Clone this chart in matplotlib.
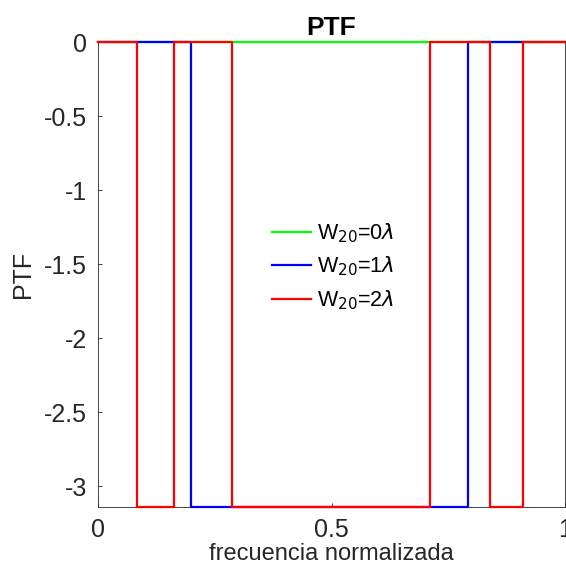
import numpy as np
import matplotlib.pyplot as plt

plt.rcParams['font.family'] = ['Liberation Sans', 'DejaVu Sans']

# PTF values (steps, value holds until next breakpoint)
freq_w0 = [0.0, 1.0]
ptf_w0 = [0.0, 0.0]

freq_w1 = [0.0, 0.200, 0.792, 1.0]
ptf_w1 = [0.0, -np.pi, 0.0, 0.0]

freq_w2 = [0.0, 0.083, 0.163, 0.288, 0.711, 0.839, 0.909, 1.0]
ptf_w2 = [0.0, -np.pi, 0.0, -np.pi, 0.0, -np.pi, 0.0, 0.0]

labels = [r'W$_{20}$=0$\lambda$', r'W$_{20}$=1$\lambda$', r'W$_{20}$=2$\lambda$']
xticks = [0, 0.5, 1]
yticks = [0, -0.5, -1, -1.5, -2, -2.5, -3]

fig = plt.figure(figsize=(5.66, 5.65), dpi=100)
ax = fig.add_axes([98 / 566, 58 / 565, 467 / 566, 465 / 565])

ax.plot(freq_w0, ptf_w0, color=(0, 1, 0), lw=1.6, drawstyle='steps-post', label=labels[0], clip_on=False, zorder=3)
ax.plot(freq_w1, ptf_w1, color=(0, 0, 1), lw=1.6, drawstyle='steps-post', label=labels[1], clip_on=False, zorder=3)
ax.plot(freq_w2, ptf_w2, color=(1, 0, 0), lw=1.6, drawstyle='steps-post', label=labels[2], clip_on=False, zorder=3)

ax.set_xlim(0, 1)
ax.set_ylim(-np.pi, 0)
ax.set_xticks(xticks)
ax.set_xticklabels(['0', '0.5', '1'])
ax.set_yticks(yticks)
ax.set_yticklabels(['0', '-0.5', '-1', '-1.5', '-2', '-2.5', '-3'])
ax.tick_params(direction='in', length=3, width=0.6, colors='0.15', labelsize=18, pad=8)
for s in ax.spines.values():
    s.set_color('0.15')
    s.set_linewidth(0.6)
    s.set_zorder(1)

ax.set_title('PTF', fontsize=19, fontweight='bold', pad=5)
ax.set_xlabel('frecuencia normalizada', fontsize=17, color='0.15', labelpad=0.5)
ax.set_ylabel('PTF', fontsize=18, color='0.15', labelpad=6)

leg = ax.legend(loc='center', bbox_to_anchor=(0.503, 0.517), frameon=False, fontsize=15.5,
                handlelength=1.85, handletextpad=0.25, labelspacing=0.45)

fig.savefig('out.png', dpi=100)
